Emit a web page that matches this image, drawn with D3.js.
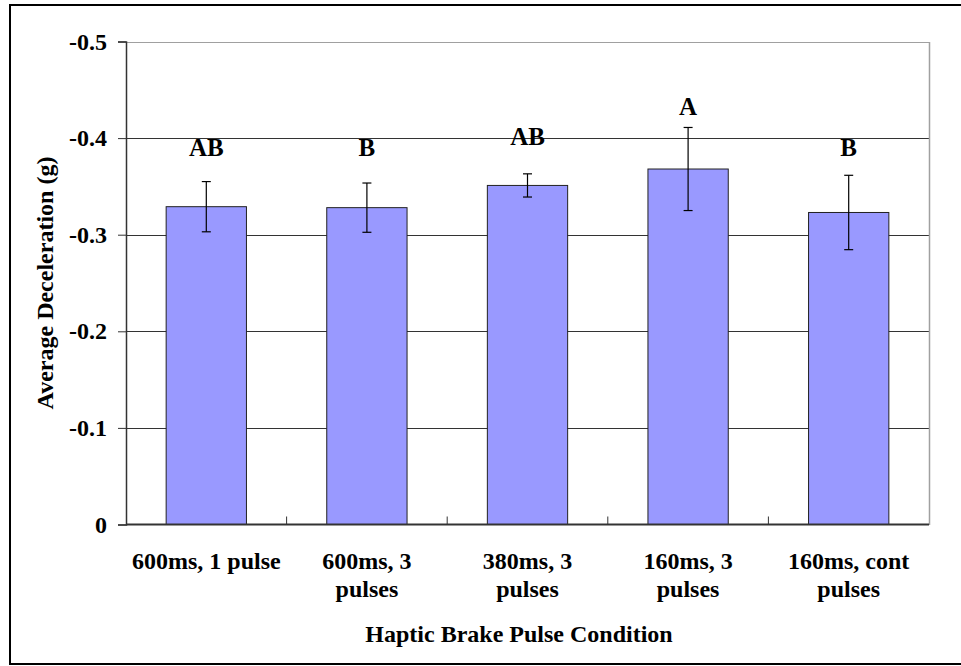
<!DOCTYPE html>
<html>
<head>
<meta charset="utf-8">
<script src="https://cdn.jsdelivr.net/npm/d3@7/dist/d3.min.js"></script>
<style>
  html, body { margin: 0; padding: 0; background: #fff; }
  svg { display: block; }
  text { font-family: "Liberation Serif", "Times New Roman", serif; font-weight: bold; fill: #000; }
</style>
</head>
<body>
<svg id="chart" width="961" height="666"></svg>
<script>
const categories = [["600ms, 1 pulse"], ["600ms, 3", "pulses"], ["380ms, 3", "pulses"], ["160ms, 3", "pulses"], ["160ms, cont", "pulses"]];
const values = [-0.329, -0.328, -0.351, -0.368, -0.323];
const errors = [0.026, 0.0255, 0.012, 0.043, 0.0385];
const groupLabels = ["AB", "B", "AB", "A", "B"];
const labelValues = [-0.381, -0.381, -0.393, -0.424, -0.381];
const yTicks = [0, -0.1, -0.2, -0.3, -0.4, -0.5];
const yTickLabels = ["0", "-0.1", "-0.2", "-0.3", "-0.4", "-0.5"];
const yTitle = "Average Deceleration (g)";
const xTitle = "Haptic Brake Pulse Condition";

const svg = d3.select("#chart");
const plot = { left: 126, right: 929, top: 41.5, bottom: 524.5 };
const FS = 24;

// outer border
svg.append("rect").attr("x", 10).attr("y", 5).attr("width", 960).attr("height", 659)
  .attr("fill", "none").attr("stroke", "#000").attr("stroke-width", 2);

const x = d3.scaleBand().domain(d3.range(categories.length)).range([plot.left, plot.right]).paddingInner(0.5).paddingOuter(0.25);
const xb = d3.scaleBand().domain(d3.range(categories.length)).range([plot.left, plot.right]);
const y = d3.scaleLinear().domain([0, -0.5]).range([plot.bottom, plot.top]);

// gridlines
svg.append("g").selectAll("line").data(yTicks.filter(d => d !== 0)).join("line")
  .attr("x1", plot.left).attr("x2", plot.right)
  .attr("y1", d => Math.round(y(d)) + 0.5).attr("y2", d => Math.round(y(d)) + 0.5)
  .attr("stroke", d => d === -0.5 ? "#a0a0a0" : "#333").attr("stroke-width", 1);

// right border of plot
svg.append("line").attr("x1", plot.right + 0.5).attr("x2", plot.right + 0.5)
  .attr("y1", Math.round(y(-0.5))).attr("y2", Math.round(y(0)))
  .attr("stroke", "#a0a0a0").attr("stroke-width", 1.5);

// bars
svg.append("g").selectAll("rect").data(values).join("rect")
  .attr("x", (d, i) => x(i)).attr("width", x.bandwidth())
  .attr("y", d => y(d)).attr("height", d => y(0) - y(d))
  .attr("fill", "#9999FF").attr("stroke", "#222").attr("stroke-width", 1);

// error bars
const eg = svg.append("g").attr("stroke", "#000").attr("stroke-width", 1.2);
values.forEach((v, i) => {
  const cx = x(i) + x.bandwidth() / 2;
  const yt = y(v - errors[i]), ybt = y(v + errors[i]);
  eg.append("line").attr("x1", cx).attr("x2", cx).attr("y1", yt).attr("y2", ybt);
  eg.append("line").attr("x1", cx - 4.5).attr("x2", cx + 4.5).attr("y1", yt).attr("y2", yt);
  eg.append("line").attr("x1", cx - 4.5).attr("x2", cx + 4.5).attr("y1", ybt).attr("y2", ybt);
});

// group letters
svg.append("g").selectAll("text").data(groupLabels).join("text")
  .attr("x", (d, i) => x(i) + x.bandwidth() / 2).attr("y", (d, i) => y(labelValues[i]))
  .attr("text-anchor", "middle").attr("font-size", 25).text(d => d);

// y axis
const yAxis = svg.append("g").attr("transform", `translate(${plot.left},0)`)
  .call(d3.axisLeft(y).tickValues(yTicks).tickSize(8).tickPadding(11).tickFormat((d, i) => yTickLabels[i]));
yAxis.select(".domain").attr("stroke", "#333").attr("stroke-width", 1.5);
yAxis.selectAll(".tick line").attr("stroke", "#333");
yAxis.selectAll(".tick text").attr("font-size", FS).attr("font-family", "Liberation Serif").attr("font-weight", "bold").attr("fill", "#000");

// x axis baseline and ticks
svg.append("line").attr("x1", plot.left).attr("x2", plot.right).attr("y1", plot.bottom).attr("y2", plot.bottom)
  .attr("stroke", "#333").attr("stroke-width", 2);
svg.append("g").selectAll("line").data(d3.range(1, categories.length)).join("line")
  .attr("x1", d => xb(d)).attr("x2", d => xb(d)).attr("y1", plot.bottom).attr("y2", plot.bottom - 8)
  .attr("stroke", "#333").attr("stroke-width", 1);

// category labels
const cg = svg.append("g");
categories.forEach((lines, i) => {
  const t = cg.append("text").attr("text-anchor", "middle").attr("font-size", FS)
    .attr("x", xb(i) + xb.bandwidth() / 2).attr("y", 569);
  lines.forEach((ln, j) => t.append("tspan").attr("x", xb(i) + xb.bandwidth() / 2).attr("dy", j === 0 ? 0 : 28).text(ln));
});

// titles
svg.append("text").attr("x", 519).attr("y", 642).attr("text-anchor", "middle").attr("font-size", FS).text(xTitle);
svg.append("text").attr("transform", "translate(53,283) rotate(-90)").attr("text-anchor", "middle").attr("font-size", FS).text(yTitle);
</script>
</body>
</html>
